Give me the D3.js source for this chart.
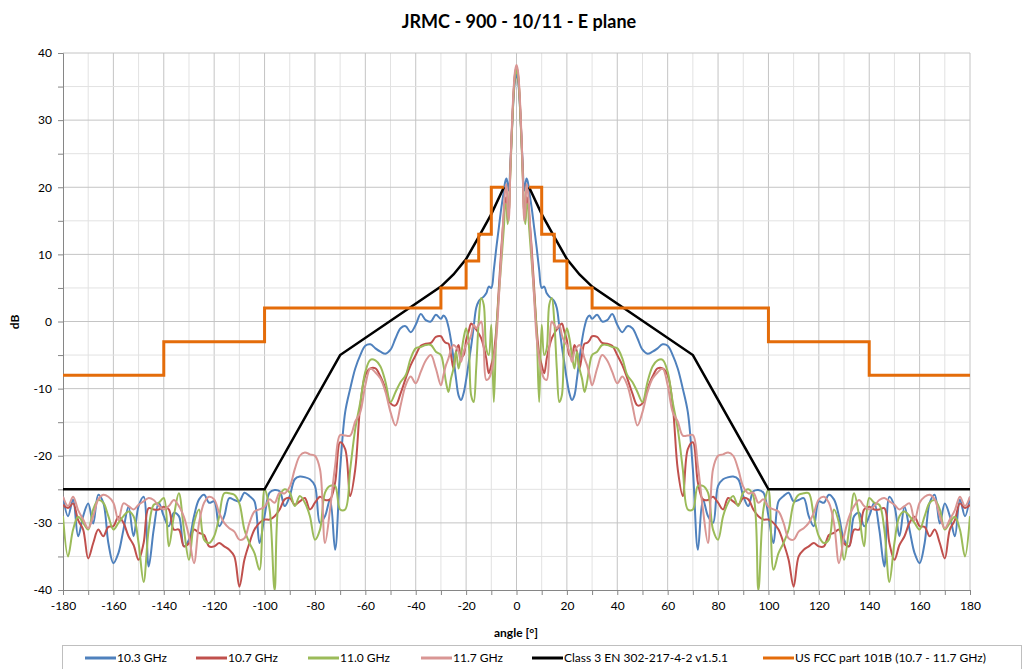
<!DOCTYPE html>
<html lang="en">
<head>
<meta charset="UTF-8">
<title>JRMC - 900 - 10/11 - E plane</title>
<script src="https://cdn.jsdelivr.net/npm/d3@7"></script>
<style>
  body { margin: 0; background: #fff; }
  svg text { font-family: Lato, "Open Sans", sans-serif; fill: #000; }
</style>
</head>
<body>
<svg id="chart" width="1024" height="669"></svg>
<script>
// measured angle grid [deg]
const angles = [-180,-178,-176,-174,-172,-170,-168,-166,-164,-162,-160,-158,-156,-154,-152,-150,-148,-146,-144,-142,-140,-138,-136,-134,-132,-130,-128,-126,-124,-122,-120,-118,-116,-114,-112,-110,-108,-106,-104,-102,-100,-98,-96,-94,-92,-90,-88,-86,-84,-82,-80,-78,-76,-74,-72,-70,-68,-66,-64,-62,-60,-58,-56,-54,-52,-50,-48,-46,-44,-42,-40,-38,-36,-34,-32,
  -30,-29,-28,-27,-26,-25,-24,-23,-22,-21,-20,-19,-18,-17,-16,-15,-14,-13,-12,-11,-10,-9,-8,-7,-6,
  -5,-4.5,-4,-3.5,-3,-2.5,-2,-1.5,-1,-0.5,0,0.5,1,1.5,2,2.5,3,3.5,4,4.5,5,
  6,7,8,9,10,11,12,13,14,15,16,17,18,19,20,21,22,23,24,25,26,27,28,29,30,
  32,34,36,38,40,42,44,46,48,50,52,54,56,58,60,62,64,66,68,70,72,74,76,78,80,82,84,86,88,90,92,94,96,98,100,102,104,106,108,110,112,114,116,118,120,122,124,126,128,130,132,134,136,138,140,142,144,146,148,150,152,154,156,158,160,162,164,166,168,170,172,174,176,178,180];

// dB values, one per angle
const f103 = [-26.1,-29,-26.5,-32,-29,-27.1,-30.1,-25.8,-27,-33,-36,-34.5,-31,-27.6,-32,-27.5,-26.1,-36.5,-31,-27,-29,-30.5,-28.5,-29,-33.5,-32.5,-29,-26.5,-25.8,-27,-26.8,-30.5,-29,-26.3,-26.6,-26.8,-25.5,-26,-26.8,-33,-29,-25.5,-25.1,-25.3,-27.5,-26,-23.5,-23.1,-23.2,-23.5,-24.5,-30,-29,-26.5,-34,-22,-13.5,-10,-7,-5,-3.6,-3.4,-4,-4.5,-4.8,-4.2,-2.5,-1,-0.7,-1.6,-0.5,1.1,0.2,0,1,
  0.4,0.9,0.5,-0.8,-2.8,-5.5,-8.5,-11,-11.7,-10.7,-8.7,-6.2,-3.7,-0.8,2,3,3.4,3.7,4.2,5.2,5,7.7,11,14,17,
  19.5,20.8,21.3,20.5,19.5,23,27,31,34.3,36.2,36.8,36.2,34.3,31,27,23,19.5,20.5,21.3,20.8,19.5,
  17,14,11,7.7,5,5.2,4.2,3.7,3.4,3,2,-0.8,-3.7,-6.2,-8.7,-10.7,-11.7,-11,-8.5,-5.5,-2.8,-0.8,0.5,0.9,0.4,
  1,0,0.2,1.1,-0.5,-1.6,-0.7,-1,-2.5,-4.2,-4.8,-4.5,-4,-3.4,-3.6,-5,-7,-10,-13.5,-22,-34,-26.5,-29,-30,-24.5,-23.5,-23.2,-23.1,-23.5,-26,-27.5,-25.3,-25.1,-25.5,-29,-33,-26.8,-26,-25.5,-26.8,-26.6,-26.3,-29,-30.5,-26.8,-27,-25.8,-26.5,-29,-32.5,-33.5,-29,-28.5,-30.5,-29,-27,-31,-36.5,-26.1,-27.5,-32,-27.6,-31,-34.5,-36,-33,-27,-25.8,-30.1,-27.1,-29,-32,-26.5,-29,-26.1];

const f107 = [-27.3,-27.8,-27.1,-29.6,-31,-35.3,-33,-31,-32,-30.6,-30.5,-29.1,-30,-32,-33.3,-35.5,-33,-27.8,-28,-28,-27.6,-28,-31,-31,-33.5,-33,-31,-31.5,-31.8,-33.5,-33.5,-33,-33.5,-34,-35,-39.5,-35.5,-33,-31,-30,-29.5,-29.5,-29,-28,-26.5,-26.3,-27.3,-26.8,-26.3,-28,-27,-26.1,-26.6,-26.5,-24,-18,-19,-26,-22,-12.5,-8,-7,-7,-8.2,-10,-12.2,-12.5,-10.7,-8.5,-6.5,-5,-3.6,-3.3,-3.2,-2.3,
  -2.2,-2.8,-3.2,-3.3,-5,-7,-4.5,-3.5,-5.2,-5,-2.8,-1.5,-0.3,-0.7,-1.2,-1.8,-2.5,-3.8,-5.5,-7.7,-6.5,-4.8,-1,5,11,
  16,18,18.5,15,16.5,22,27,31.5,35,37.1,37.8,37.1,35,31.5,27,22,16.5,15,18.5,18,16,
  11,5,-1,-4.8,-6.5,-7.7,-5.5,-3.8,-2.5,-1.8,-1.2,-0.7,-0.3,-1.5,-2.8,-5,-5.2,-3.5,-4.5,-7,-5,-3.3,-3.2,-2.8,-2.2,
  -2.3,-3.2,-3.3,-3.6,-5,-6.5,-8.5,-10.7,-12.5,-12.2,-10,-8.2,-7,-7,-8,-12.5,-22,-26,-19,-18,-24,-26.5,-26.6,-26.1,-27,-28,-26.3,-26.8,-27.3,-26.3,-26.5,-28,-29,-29.5,-29.5,-30,-31,-33,-35.5,-39.5,-35,-34,-33.5,-33,-33.5,-33.5,-31.8,-31.5,-31,-33,-33.5,-31,-31,-28,-27.6,-28,-28,-27.8,-33,-35.5,-33.3,-32,-30,-29.1,-30.5,-30.6,-32,-31,-33,-35.3,-31,-29.6,-27.1,-27.8,-27.3];

const f110 = [-29,-35,-31,-29.1,-30,-31,-28,-26.6,-27,-29,-31,-30,-29,-28.3,-29,-33,-38.8,-31,-27.3,-27,-26.3,-33.5,-29,-25.6,-31,-35.5,-30,-28,-32.5,-33,-32,-29,-25.6,-25.6,-25.8,-27.1,-31,-33,-34.5,-37,-25,-28,-40,-26,-25,-25.5,-27.5,-26,-27,-29,-32.5,-31,-25.5,-24.5,-24.5,-28,-28,-22,-16,-12,-7.5,-5.7,-5.8,-6.7,-9,-12,-10.5,-9,-8,-5.5,-4,-3.8,-3.5,-3.5,-4.5,
  -5,-6.5,-9,-10.5,-8.5,-7,-4.5,-7,-5,-2.5,-1,-3,-11,-12,-7,0,3.5,2.5,-4,-5,-0.5,-12,-1.5,4,9,
  14,17,17.5,14.5,16.5,21.5,26.5,31,34.8,36.8,37.5,36.8,34.8,31,26.5,21.5,16.5,14.5,17.5,17,14,
  9,4,-1.5,-12,-0.5,-5,-4,2.5,3.5,0,-7,-12,-11,-3,-1,-2.5,-5,-7,-4.5,-7,-8.5,-10.5,-9,-6.5,-5,
  -4.5,-3.5,-3.5,-3.8,-4,-5.5,-8,-9,-10.5,-12,-9,-6.7,-5.8,-5.7,-7.5,-12,-16,-22,-28,-28,-24.5,-24.5,-25.5,-31,-32.5,-29,-27,-26,-27.5,-25.5,-25,-26,-40,-28,-25,-37,-34.5,-33,-31,-27.1,-25.8,-25.6,-25.6,-29,-32,-33,-32.5,-28,-30,-35.5,-31,-25.6,-29,-33.5,-26.3,-27,-27.3,-31,-38.8,-33,-29,-28.3,-29,-30,-31,-29,-27,-26.6,-28,-31,-30,-29.1,-31,-35,-29];

const f117 = [-26.1,-27.5,-26.1,-28.1,-29.5,-30.8,-29,-26.5,-25.8,-26.1,-27,-29.6,-27.1,-27.5,-28,-27.3,-26.8,-26.3,-26.6,-27.5,-28,-27.5,-26.6,-27.5,-29.1,-32,-36,-30,-27,-26.1,-26.5,-28.5,-30,-30.8,-31.3,-32.5,-32.3,-30,-28.3,-28,-27.6,-26.5,-27,-25.5,-25.6,-24.6,-22,-20,-19.5,-19.8,-20,-22,-33,-28,-21.5,-16.9,-17,-17,-14.9,-13.5,-9.5,-7,-7.6,-8.5,-10.5,-13.5,-15.5,-12.5,-9.5,-8.2,-9.2,-7.5,-5.8,-5,-7,
  -9.5,-8,-6.5,-5.5,-4.2,-3.5,-3.8,-4.5,-6,-4.5,-3.5,-3,-2,-0.5,-1,-0.5,0,-4,-8.7,-8.5,-7.5,-5.5,-2.5,3.5,10,
  17,19.5,20.5,16.5,15,22,27.5,32,35.5,37.5,38.2,37.5,35.5,32,27.5,22,15,16.5,20.5,19.5,17,
  10,3.5,-2.5,-5.5,-7.5,-8.5,-8.7,-4,0,-0.5,-1,-0.5,-2,-3,-3.5,-4.5,-6,-4.5,-3.8,-3.5,-4.2,-5.5,-6.5,-8,-9.5,
  -7,-5,-5.8,-7.5,-9.2,-8.2,-9.5,-12.5,-15.5,-13.5,-10.5,-8.5,-7.6,-7,-9.5,-13.5,-14.9,-17,-17,-16.9,-21.5,-28,-33,-22,-20,-19.8,-19.5,-20,-22,-24.6,-25.6,-25.5,-27,-26.5,-27.6,-28,-28.3,-30,-32.3,-32.5,-31.3,-30.8,-30,-28.5,-26.5,-26.1,-27,-30,-36,-32,-29.1,-27.5,-26.6,-27.5,-28,-27.5,-26.6,-26.3,-26.8,-27.3,-28,-27.5,-27.1,-29.6,-27,-26.1,-25.8,-26.5,-29,-30.8,-29.5,-28.1,-26.1,-27.5,-26.1];

// Class 3 EN 302-217-4-2 v1.5.1 mask (two branches)
const enLeftAngles  = [-180,-100,-70,-30,-25,-20,-15,-10,-5];
const enLeftValues  = [-25,-25,-5,5.2,7,9.3,12.6,16,20];
const enRightAngles = [5,10,15,20,25,30,70,100,180];
const enRightValues = [20,16,12.6,9.3,7,5.2,-5,-25,-25];

// US FCC part 101B mask (two branches, stepped)
const fccLeftAngles  = [-180,-140,-140,-100,-100,-30,-30,-20,-20,-15,-15,-10,-10,-5];
const fccLeftValues  = [-8,-8,-3,-3,2,2,5,5,9,9,13,13,20,20];
const fccRightAngles = [5,10,10,15,15,20,20,30,30,100,100,140,140,180];
const fccRightValues = [20,20,13,13,9,9,5,5,2,2,-3,-3,-8,-8];

const xTicks = [-180,-160,-140,-120,-100,-80,-60,-40,-20,0,20,40,60,80,100,120,140,160,180];
const yTicks = [-40,-30,-20,-10,0,10,20,30,40];

const legendNames = ["10.3 GHz","10.7 GHz","11.0 GHz","11.7 GHz","Class 3 EN 302-217-4-2 v1.5.1","US FCC part 101B (10.7 - 11.7 GHz)"];
const colors = ["#4F81BD","#C0504D","#9BBB59","#D99694","#000000","#E46C0A"];

const svg = d3.select("#chart");
const L = 63, R = 970, T = 53, B = 590;
const x = d3.scaleLinear().domain([-180, 180]).range([L, R]);
const y = d3.scaleLinear().domain([-40, 40]).range([B, T]);

// grid
svg.append("g").selectAll("line").data(d3.range(-170, 181, 10)).enter().append("line")
  .attr("x1", d => x(d)).attr("x2", d => x(d)).attr("y1", T).attr("y2", B)
  .attr("stroke", d => d % 20 === 0 ? "#c4c4c4" : "#e2e2e2").attr("stroke-width", 1);
svg.append("g").selectAll("line").data(d3.range(-35, 41, 5)).enter().append("line")
  .attr("x1", L).attr("x2", R).attr("y1", d => y(d)).attr("y2", d => y(d))
  .attr("stroke", d => d % 10 === 0 ? "#c4c4c4" : "#e2e2e2").attr("stroke-width", 1);

// axes
const xAxis = svg.append("g").attr("transform", "translate(0," + B + ")")
  .call(d3.axisBottom(x).tickValues(d3.range(-180, 181, 10)).tickSize(5).tickPadding(6)
    .tickFormat(d => xTicks.includes(d) ? d : ""));
const yAxis = svg.append("g").attr("transform", "translate(" + L + ",0)")
  .call(d3.axisLeft(y).tickValues(d3.range(-40, 41, 5)).tickSize(5).tickPadding(6)
    .tickFormat(d => yTicks.includes(d) ? d : ""));
[xAxis, yAxis].forEach(a => {
  a.select(".domain").attr("stroke", "#868686");
  a.selectAll(".tick line").attr("stroke", "#868686");
  a.selectAll("text").style("font-size", "12px").style("font-family", "Lato, sans-serif").attr("fill", "#000");
});

// clip
svg.append("clipPath").attr("id", "plot").append("rect")
  .attr("x", L).attr("y", T - 2).attr("width", R - L).attr("height", B - T + 2);

const smooth = d3.line().x(d => x(d[0])).y(d => y(d[1])).curve(d3.curveCatmullRom.alpha(0.5));
const straight = d3.line().x(d => x(d[0])).y(d => y(d[1]));

const series = [f103, f107, f110, f117];
const plot = svg.append("g").attr("clip-path", "url(#plot)");
series.forEach((vals, i) => {
  plot.append("path").datum(angles.map((a, k) => [a, vals[k]]))
    .attr("d", smooth).attr("fill", "none")
    .attr("stroke", colors[i]).attr("stroke-width", 2).attr("stroke-linejoin", "round");
});

[[enLeftAngles, enLeftValues], [enRightAngles, enRightValues]].forEach(p => {
  plot.append("path").datum(p[0].map((a, k) => [a, p[1][k]]))
    .attr("d", straight).attr("fill", "none").attr("stroke", colors[4]).attr("stroke-width", 2.5);
});
[[fccLeftAngles, fccLeftValues], [fccRightAngles, fccRightValues]].forEach(p => {
  plot.append("path").datum(p[0].map((a, k) => [a, p[1][k]]))
    .attr("d", straight).attr("fill", "none").attr("stroke", colors[5]).attr("stroke-width", 3);
});

// titles
svg.append("text").attr("x", 519).attr("y", 28).attr("text-anchor", "middle")
  .style("font-size", "18px").style("font-weight", "bold").text("JRMC - 900 - 10/11 - E plane");
svg.append("text").attr("x", 516).attr("y", 637).attr("text-anchor", "middle")
  .style("font-size", "12px").style("font-weight", "bold").text("angle [°]");
svg.append("text").attr("transform", "translate(19,322) rotate(-90)").attr("text-anchor", "middle")
  .style("font-size", "12px").style("font-weight", "bold").text("dB");

// legend
svg.append("rect").attr("x", 62.5).attr("y", 645.5).attr("width", 959).attr("height", 40)
  .attr("fill", "#fff").attr("stroke", "#bfbfbf");
const legendX = [85, 196, 308, 421, 532, 763];
legendNames.forEach((n, i) => {
  const g = svg.append("g").attr("transform", "translate(" + legendX[i] + ",658)");
  g.append("line").attr("x1", 0).attr("x2", 31).attr("stroke", colors[i]).attr("stroke-width", 3);
  g.append("text").attr("x", 32).attr("y", 4).style("font-size", "12px").text(n);
});
</script>
</body>
</html>
